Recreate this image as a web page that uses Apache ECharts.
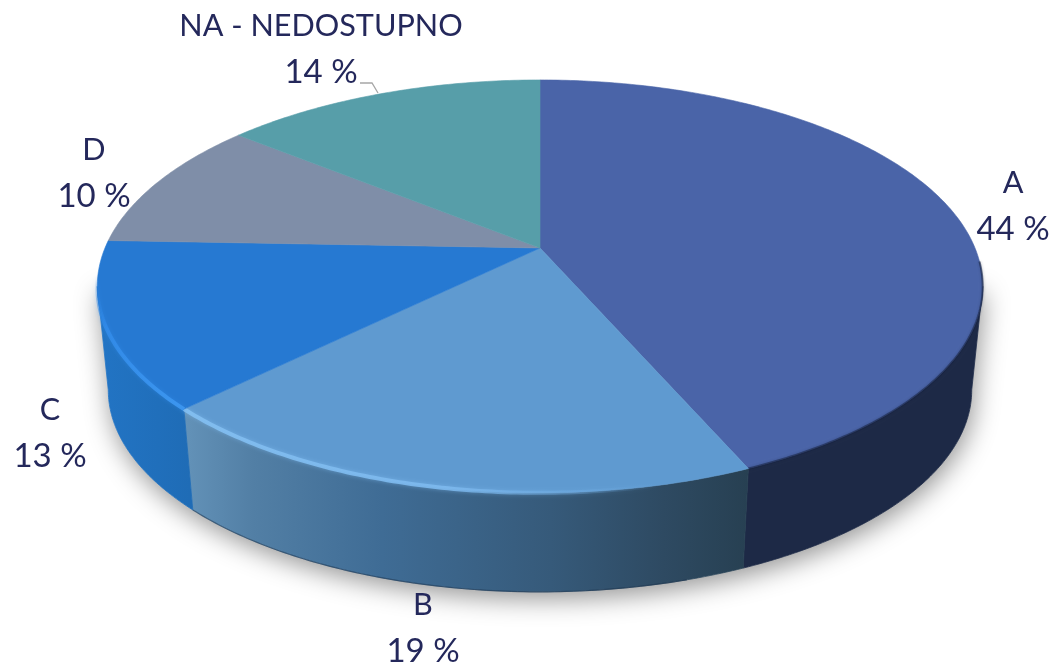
<!DOCTYPE html>
<html>
<head>
<meta charset="utf-8">
<script src="https://cdn.jsdelivr.net/npm/echarts@6/dist/echarts.min.js"></script>
<style>html,body{margin:0;padding:0;background:#fff}#c{width:1055px;height:665px}</style>
</head>
<body>
<div id="c"></div>
<script>
// ---- data ----
var categories = ['A', 'B', 'C', 'D', 'NA - NEDOSTUPNO'];
var shares = [43.5, 19.1, 13.0, 10.3, 14.1];

// ---- styling and layout, separate from the data ----
var topColors = ['#4a64a8', '#5f9ad0', '#2679d2', '#7f8ea8', '#579ea9'];
var labelCentres = [[1013, 206], [423, 628], [50, 433], [94, 173], [321, 49]];
var geo = {
  apexX: 540, apexY: 248, a: 435, b: 199.3, k: 0.186,   // perspective disc
  topCy: 286.5, topRx: 443, topRy: 206.5,               // outline of top face
  lowCy: 390, lowRx: 432, lowRy: 202                    // outline of base
};

var total = shares.reduce(function (s, v) { return s + v; }, 0);
var wallLimits = [Math.acos(-geo.k), 2 * Math.PI - Math.acos(-geo.k)];

function sweep(i) {
  var before = 0;
  for (var n = 0; n < i; n++) before += shares[n];
  return [before / total * 2 * Math.PI, (before + shares[i]) / total * 2 * Math.PI];
}
function topPoint(t) {
  var u = Math.sin(t), v = -Math.cos(t), w = 1 - geo.k * v;
  return [geo.apexX + geo.a * u / w, geo.apexY + geo.b * v / w];
}
function lowPoint(t) {
  var p = topPoint(t);
  return [
    geo.apexX + (p[0] - geo.apexX) / geo.topRx * geo.lowRx,
    geo.lowCy + (p[1] - geo.topCy) / geo.topRy * geo.lowRy
  ];
}
function arc(fn, t0, t1) {
  var pts = [], n = Math.max(2, Math.ceil(Math.abs(t1 - t0) / 0.012));
  for (var i = 0; i <= n; i++) pts.push(fn(t0 + (t1 - t0) * i / n));
  return pts;
}
function grad(x0, y0, x1, y1, stops) {
  return new echarts.graphic.LinearGradient(x0, y0, x1, y1, stops, true);
}
var wallFills = [
  function () { return '#1d2946'; },
  function () {
    return grad(185, 0, 748, 0, [
      { offset: 0, color: '#6392b8' }, { offset: 0.12, color: '#527fa5' },
      { offset: 0.35, color: '#3f6c95' }, { offset: 0.65, color: '#365a7a' },
      { offset: 0.85, color: '#2e4a62' }, { offset: 1, color: '#274052' }
    ]);
  },
  function () {
    return grad(100, 0, 190, 0, [{ offset: 0, color: '#2274c4' }, { offset: 1, color: '#1f6cb6' }]);
  }
];
var seriesData = shares.map(function (v, i) { return { name: categories[i], value: [v, i] }; });

function renderShadow() {
  var pts = arc(topPoint, wallLimits[0], wallLimits[1]).slice(0, 1)
    .concat(arc(lowPoint, wallLimits[0], wallLimits[1]))
    .concat(arc(topPoint, wallLimits[1], wallLimits[1] + 0.001));
  return {
    type: 'polygon', shape: { points: pts },
    style: { fill: '#ffffff', shadowColor: 'rgba(0,0,0,0.42)', shadowBlur: 26, shadowOffsetY: 7, shadowOffsetX: 2 }
  };
}
function renderWall(params, api) {
  var i = api.value(1), s = sweep(i);
  var t0 = Math.max(s[0], wallLimits[0]), t1 = Math.min(s[1], wallLimits[1]);
  if (t1 <= t0 || !wallFills[i]) return null;
  var pts = arc(topPoint, t0, t1).concat(arc(lowPoint, t1, t0));
  var fill = wallFills[i]();
  var children = [{ type: 'polygon', shape: { points: pts }, style: { fill: fill, stroke: fill, lineWidth: 0.8 } }];
  if (i === 1) {
    children.push({
      type: 'polyline', shape: { points: arc(lowPoint, t0 + 0.12, t1) },
      style: { fill: null, stroke: 'rgba(25,50,75,0.55)', lineWidth: 1.2 }
    });
  }
  return { type: 'group', children: children };
}
function renderTop(params, api) {
  var i = api.value(1), s = sweep(i);
  var rim = arc(topPoint, s[0], s[1]);
  var children = [{
    type: 'polygon', shape: { points: [[geo.apexX, geo.apexY]].concat(rim) },
    style: { fill: topColors[i], stroke: topColors[i], lineWidth: 0.6 }
  }];
  if (i === 0) {
    children.push({
      type: 'polyline', shape: { points: arc(topPoint, wallLimits[0] - 0.12, s[1]) },
      style: { fill: null, stroke: 'rgba(22,32,62,0.55)', lineWidth: 2, shadowColor: 'rgba(22,32,62,0.5)', shadowBlur: 3 }
    });
  }
  if (i === 1) {
    children.push({
      type: 'polyline', shape: { points: arc(topPoint, s[0], s[1]) },
      style: {
        fill: null, lineWidth: 4, shadowColor: 'rgba(125,185,238,0.6)', shadowBlur: 4,
        stroke: grad(185, 0, 660, 0, [
          { offset: 0, color: 'rgba(130,190,240,0.95)' }, { offset: 0.55, color: 'rgba(125,185,238,0.9)' },
          { offset: 1, color: 'rgba(110,170,225,0)' }
        ])
      }
    });
  }
  if (i === 2) {
    children.push({
      type: 'polyline', shape: { points: arc(topPoint, s[0], s[1]) },
      style: {
        fill: null, lineWidth: 4, shadowColor: 'rgba(50,140,235,0.5)', shadowBlur: 4,
        stroke: grad(0, 405, 0, 275, [
          { offset: 0, color: 'rgba(60,150,240,0.95)' }, { offset: 0.6, color: 'rgba(50,140,235,0.8)' },
          { offset: 1, color: 'rgba(40,125,215,0)' }
        ])
      }
    });
  }
  return { type: 'group', children: children };
}
function renderLabel(params, api) {
  var i = api.value(1), c = labelCentres[i];
  var children = [{
    type: 'text', x: c[0], y: c[1],
    style: {
      text: '{n|' + categories[i] + '}\n{p|' + Math.round(api.value(0)) + ' %}',
      fontFamily: 'Lato', fontSize: 31, lineHeight: 46,
      fill: '#24285b', align: 'center', verticalAlign: 'middle',
      rich: {
        n: { fontFamily: 'Lato', fontSize: 30.6, lineHeight: 46, fill: '#24285b' },
        p: { fontFamily: 'Lato', fontSize: 33, lineHeight: 46, fill: '#24285b' }
      }
    }
  }];
  if (i === 4) {
    children.push({
      type: 'polyline', shape: { points: [[360, 83], [372, 83], [378, 93]] },
      style: { fill: null, stroke: '#a6a6a6', lineWidth: 1.3 }
    });
  }
  return { type: 'group', children: children };
}
var dims = [{ name: 'share', type: 'number' }, { name: 'index', type: 'number' }];
function layer(fn, z, data) {
  return {
    type: 'custom', coordinateSystem: 'none', renderItem: fn, z: z, silent: true,
    animation: false, clip: false, data: data || seriesData, dimensions: dims, encode: { tooltip: 0 }
  };
}
var chart = echarts.init(document.getElementById('c'), null, { renderer: 'canvas' });
chart.setOption({
  backgroundColor: '#ffffff',
  animation: false,
  series: [
    layer(renderShadow, 1, [seriesData[0]]),
    layer(renderWall, 2),
    layer(renderTop, 3),
    layer(renderLabel, 4)
  ]
});
</script>
</body>
</html>
